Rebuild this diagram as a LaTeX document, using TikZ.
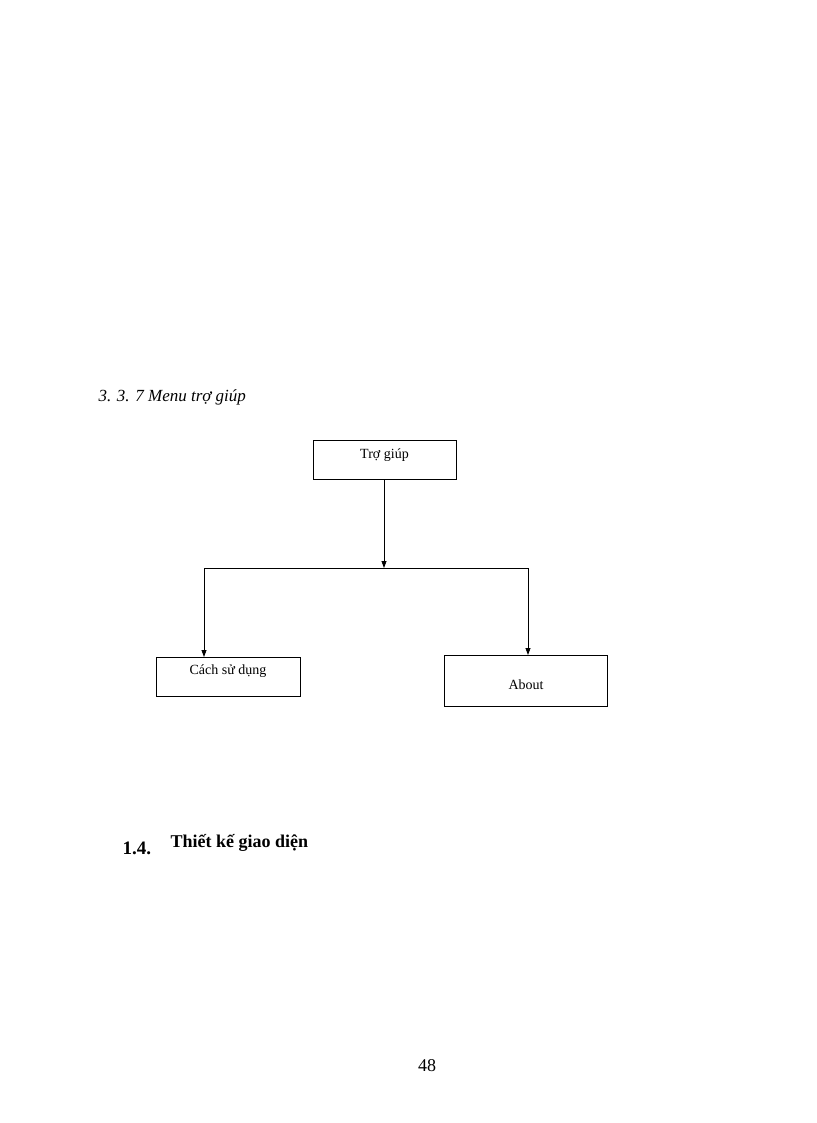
\documentclass[tikz,border=0pt]{standalone}
\usepackage{fontspec}
\setmainfont{Liberation Serif}
\usetikzlibrary{arrows.meta}
\begin{document}
\begin{tikzpicture}[x=1pt,y=-1pt,
  box/.style={draw,line width=0.8pt,minimum width=#1,inner sep=0pt},
  arr/.style={-{Triangle[length=7pt,width=5pt]},line width=0.8pt},
  lbl/.style={font=\fontsize{14}{16}\selectfont}]
\useasboundingbox (0,0) rectangle (816,1123);
\node[anchor=west,font=\fontsize{17}{20}\selectfont\itshape] (title) at (95,397) {3. 3. 7 Menu trợ giúp};
\draw[line width=0.8pt] (313,440) rectangle (456,479);
\node[lbl] (t) at (384.5,455) {Trợ giúp};
\coordinate (tb) at (384,479);
\coordinate (j) at (384,568);
\coordinate (l) at (204,568);
\coordinate (r) at (528,568);
\draw[line width=0.8pt] (156,657) rectangle (300,696);
\node[lbl] (c) at (228,671) {Cách sử dụng};
\draw[line width=0.8pt] (444,655) rectangle (607,706);
\node[lbl] (a) at (526,685) {About};
\coordinate (cb) at (204,657);
\coordinate (ab) at (528,655);
\draw[arr] (tb) -- (j);
\draw[line width=0.8pt] (l) -- (r);
\draw[arr] (l) -- (cb);
\draw[arr] (r) -- (ab);
\node[anchor=west,font=\fontsize{19}{22}\selectfont\bfseries] (n) at (119,848) {1.4.};
\node[anchor=west,font=\fontsize{18}{22}\selectfont\bfseries] (h) at (167,843) {Thiết kế giao diện};
\node[font=\fontsize{18}{22}\selectfont] (p) at (427,1066) {48};
\end{tikzpicture}
\end{document}
